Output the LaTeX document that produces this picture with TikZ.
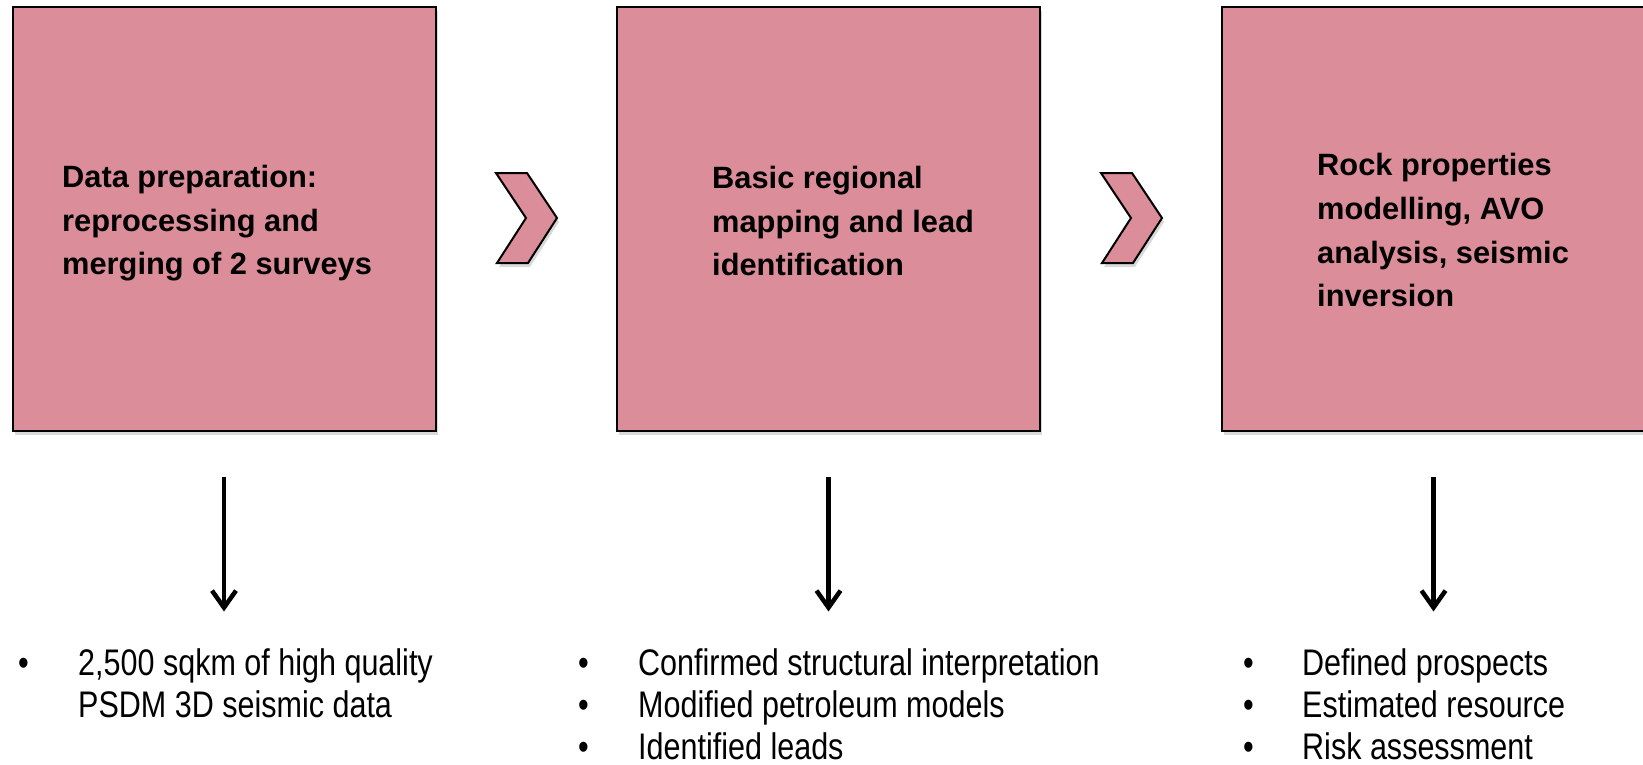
\documentclass[tikz,border=0pt]{standalone}
\usepackage{fontspec}
\setmainfont{Liberation Sans}
\newfontfamily\narrowfont[FakeStretch=0.825]{Liberation Sans}
\usetikzlibrary{arrows.meta,shadows}
\definecolor{boxpink}{RGB}{219,141,153}
\tikzset{
  stage/.style={draw=black, line width=2pt, fill=boxpink, minimum width=423pt, minimum height=423pt, inner sep=0pt,
    drop shadow={shadow xshift=2pt, shadow yshift=-4pt, opacity=0.3}},
  stagetext/.style={anchor=north west, inner sep=0pt, font=\fontsize{30.8}{43.5}\selectfont\bfseries},
  outtext/.style={anchor=north west, inner sep=0pt, font=\narrowfont\fontsize{37}{42.3}\selectfont},
  chev/.style={draw=black, line width=2pt, fill=boxpink, line join=miter,
    drop shadow={shadow xshift=2pt, shadow yshift=-4pt, opacity=0.3}},
  flow/.style={line width=4.5pt, -{Straight Barb[length=17pt,width=24pt]}}
}
\begin{document}
\begin{tikzpicture}[x=1pt,y=-1pt]
\useasboundingbox (0,0) rectangle (1643,765);
% stage boxes
\node[stage] (b1) at (224,219) {};
\node[stage] (b2) at (828.5,219) {};
\node[stage] (b3) at (1433.5,219) {};
% box texts
\node[stagetext] (t1) at (62,157) {\begin{tabular}{@{}l@{}}Data preparation:\\reprocessing and\\merging of 2 surveys\end{tabular}};
\node[stagetext] (t2) at (712,158) {\begin{tabular}{@{}l@{}}Basic regional\\mapping and lead\\identification\end{tabular}};
\node[stagetext, font=\fontsize{30.8}{43.7}\selectfont\bfseries] (t3) at (1317,145) {\begin{tabular}{@{}l@{}}Rock properties\\modelling, AVO\\analysis, seismic\\inversion\end{tabular}};
% chevrons
\draw[chev] (496,173) -- (527,173) -- (557,218) -- (528,263) -- (497,263) -- (526,218) -- cycle;
\draw[chev] (1101,173) -- (1132,173) -- (1162,218) -- (1133,263) -- (1102,263) -- (1131,218) -- cycle;
% outcome lists
\node[outtext] (l1) at (18,645.5) {\begin{tabular}{@{}p{60pt}@{}l@{}}\textbullet & 2,500 sqkm of high quality\\ & PSDM 3D seismic data\end{tabular}};
\node[outtext] (l2) at (578,645.5) {\begin{tabular}{@{}p{60pt}@{}l@{}}\textbullet & Confirmed structural interpretation\\\textbullet & Modified petroleum models\\\textbullet & Identified leads\end{tabular}};
\node[outtext] (l3) at (1243,645.5) {\begin{tabular}{@{}p{59pt}@{}l@{}}\textbullet & Defined prospects\\\textbullet & Estimated resource\\\textbullet & Risk assessment\end{tabular}};
% arrows
\draw[flow] ([yshift=-45pt]b1.south) -- ++(0,135);
\draw[flow] ([yshift=-45pt]b2.south) -- ++(0,135);
\draw[flow] ([yshift=-45pt]b3.south) -- ++(0,135);
\end{tikzpicture}
\end{document}
